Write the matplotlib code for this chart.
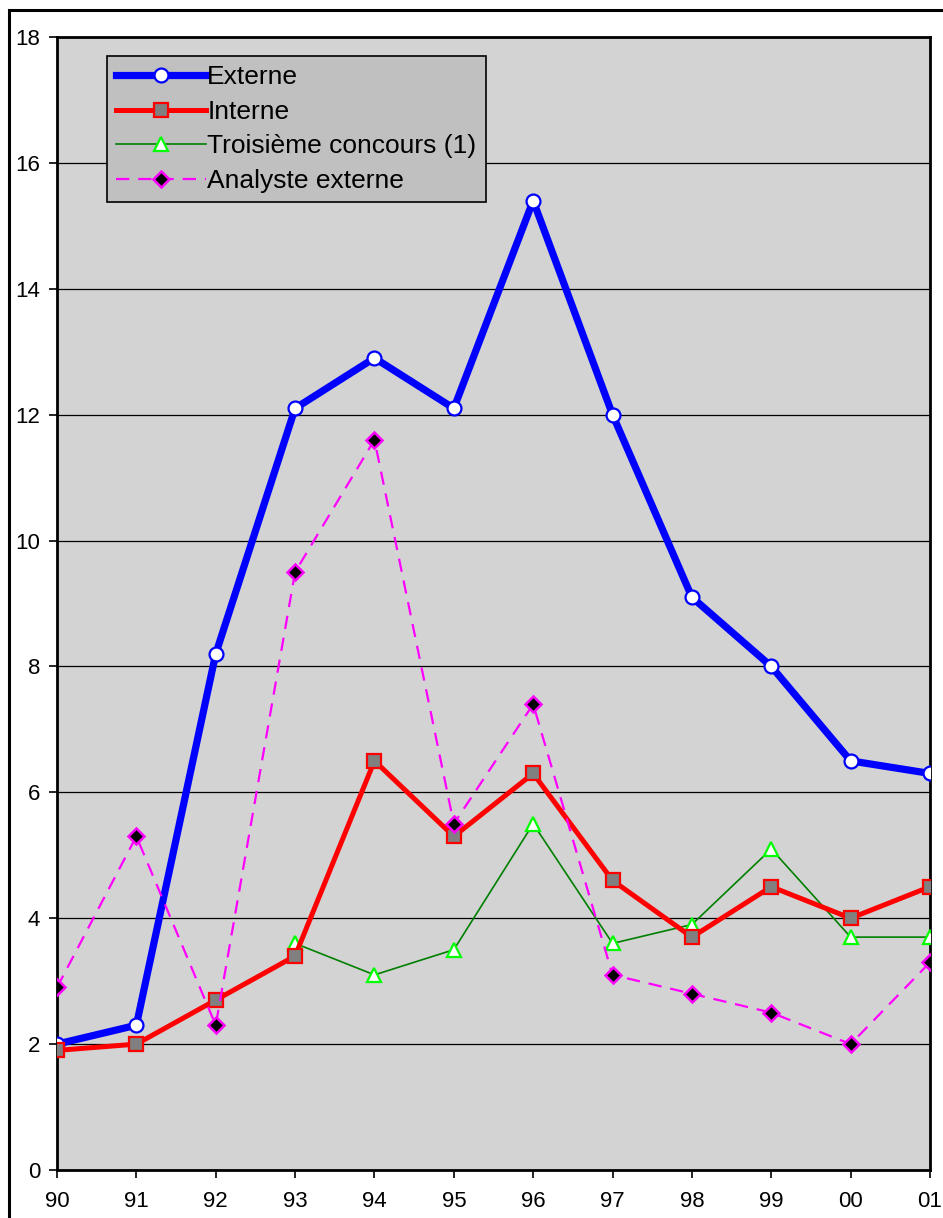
import matplotlib.pyplot as plt
from matplotlib.patches import Rectangle

plt.rcParams['font.family'] = ['Liberation Sans', 'DejaVu Sans']

annees = ["90", "91", "92", "93", "94", "95", "96", "97", "98", "99", "00", "01"]
externe = [2.0, 2.3, 8.2, 12.1, 12.9, 12.1, 15.4, 12.0, 9.1, 8.0, 6.5, 6.3]
interne = [1.9, 2.0, 2.7, 3.4, 6.5, 5.3, 6.3, 4.6, 3.7, 4.5, 4.0, 4.5]
# troisieme concours only exists from 93 on
troisieme = [None, None, None, 3.6, 3.1, 3.5, 5.5, 3.6, 3.9, 5.1, 3.7, 3.7]
analyste = [2.9, 5.3, 2.3, 9.5, 11.6, 5.5, 7.4, 3.1, 2.8, 2.5, 2.0, 3.3]

x = list(range(len(annees)))
x3 = [i for i, v in zip(x, troisieme) if v is not None]
y3 = [v for v in troisieme if v is not None]

fig = plt.figure(figsize=(9.43, 12.18), dpi=100)
ax = fig.add_axes([57 / 943, 1 - 1170 / 1218, (930 - 57) / 943, (1170 - 37) / 1218])
ax.set_facecolor("#d3d3d3")

# frame around the whole chart (right and bottom run off the page)
fig.patches.append(Rectangle((9 / 943, -0.05), 1.1, 1 - 10 / 1218 + 0.05,
                             transform=fig.transFigure, fill=False,
                             edgecolor="black", linewidth=2.2, zorder=0))

ax.plot(x, externe, color="#0000ff", linewidth=5.2, marker="o", markersize=10,
        markerfacecolor="white", markeredgecolor="#0000ff", markeredgewidth=1.6,
        label="Externe", zorder=4)
ax.plot(x, interne, color="#ff0000", linewidth=3.6, marker="s", markersize=10,
        markerfacecolor="#808080", markeredgecolor="#ff0000", markeredgewidth=1.6,
        label="Interne", zorder=5)
ax.plot(x3, y3, color="#008000", linewidth=1.2, marker="^", markersize=10,
        markerfacecolor="white", markeredgecolor="#00ff00", markeredgewidth=1.6,
        label="Troisième concours (1)", zorder=3)
ax.plot(x, analyste, color="#ff00ff", linewidth=1.6, dashes=(6, 4), marker="D",
        markersize=8.5, markerfacecolor="black", markeredgecolor="#ff00ff",
        markeredgewidth=1.8, label="Analyste externe", zorder=6)

ax.set_xlim(0, 11)
ax.set_ylim(0, 18)
ax.set_yticks(range(0, 19, 2))
ax.set_xticks(x)
ax.set_xticklabels(annees)
ax.yaxis.grid(True, color="black", linewidth=0.9)
ax.set_axisbelow(True)
ax.tick_params(axis="both", labelsize=16, direction="out", length=6, width=1.2,
               colors="black")
ax.tick_params(axis="x", pad=9)
ax.tick_params(axis="y", pad=6)
for s in ax.spines.values():
    s.set_linewidth(2)

leg = ax.legend(loc="upper left", bbox_to_anchor=((107 - 57) / 873, 1 - (56 - 37) / 1133),
                fontsize=19, frameon=True, fancybox=False, handlelength=3.4,
                handletextpad=0.05, borderpad=0.35, labelspacing=0.4,
                borderaxespad=0)
leg.get_frame().set_facecolor("#c0c0c0")
leg.get_frame().set_edgecolor("black")
leg.get_frame().set_alpha(1)
leg.get_frame().set_linewidth(1.2)

fig.savefig("out.png", dpi=100)
